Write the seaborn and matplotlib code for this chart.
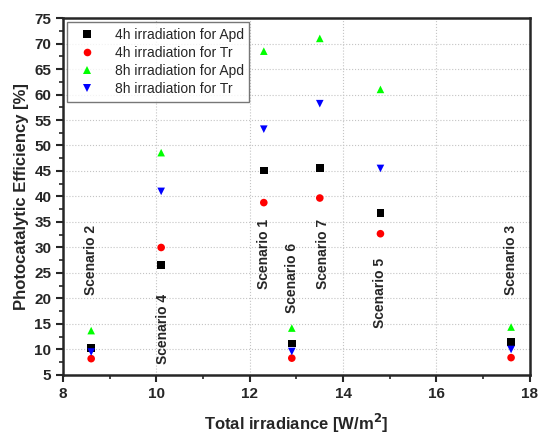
"""Photocatalytic efficiency vs total irradiance."""
import matplotlib
matplotlib.use("Agg")
import matplotlib.pyplot as plt
from matplotlib.ticker import MultipleLocator
import seaborn as sns
import pandas as pd

# Data
irradiance = [8.6, 10.1, 12.3, 12.9, 13.5, 14.8, 17.6]
apd_4h = [10.3, 26.6, 45.1, 11.2, 45.6, 36.8, 11.5]
tr_4h = [8.2, 30.0, 38.8, 8.3, 39.7, 32.7, 8.4]
apd_8h = [13.7, 48.6, 68.5, 14.2, 71.0, 61.0, 14.4]
tr_8h = [9.5, 41.0, 53.2, 9.6, 58.2, 45.5, 10.0]

scenario_labels = ["Scenario 2", "Scenario 4", "Scenario 1", "Scenario 6",
                   "Scenario 7", "Scenario 5", "Scenario 3"]
scenario_x = [8.6, 10.15, 12.3, 12.9, 13.57, 14.8, 17.6]
scenario_y = [20.7, 7.2, 21.9, 17.2, 21.9, 14.2, 20.7]

series_names = ["4h irradiation for Apd", "4h irradiation for Tr",
                "8h irradiation for Apd", "8h irradiation for Tr"]
series_values = [apd_4h, tr_4h, apd_8h, tr_8h]

df = pd.concat([
  pd.DataFrame({"x": irradiance, "y": vals, "series": name})
  for name, vals in zip(series_names, series_values)
])

sns.set_style("ticks")
plt.rcParams["font.family"] = ["Liberation Sans", "DejaVu Sans"]

fig = plt.figure(figsize=(5.4, 4.34), dpi=100)
ax = fig.add_axes([0.117, 0.136, 0.864, 0.8225])

palette = {
  series_names[0]: "black",
  series_names[1]: "red",
  series_names[2]: "#00ff00",
  series_names[3]: "#0000ff",
}
markers = {
  series_names[0]: "s",
  series_names[1]: "o",
  series_names[2]: "^",
  series_names[3]: "v",
}
sns.scatterplot(
  data=df, x="x", y="y",
  hue="series", style="series",
  palette=palette, markers=markers,
  s=30, linewidth=0, ax=ax, zorder=3)

for label, xs, ys in zip(scenario_labels, scenario_x, scenario_y):
  ax.text(xs, ys, label, rotation=90, ha="center", va="bottom",
          fontsize=10, fontweight="bold")

# Formatting
ax.set_xlim(8, 18)
ax.set_ylim(5, 75)
ax.xaxis.set_major_locator(MultipleLocator(2))
ax.xaxis.set_minor_locator(MultipleLocator(1))
ax.yaxis.set_major_locator(MultipleLocator(5))
ax.yaxis.set_minor_locator(MultipleLocator(2.5))
ax.grid(True, which="major", linestyle=":", color="#c4c4c4", linewidth=0.8)
for spine in ax.spines.values():
  spine.set_linewidth(1.8)
  spine.set_visible(True)
ax.tick_params(which="major", direction="out", length=5, width=1.5,
               labelsize=11)
ax.tick_params(which="minor", direction="out", length=3, width=1.2)
for lbl in ax.get_xticklabels() + ax.get_yticklabels():
  lbl.set_fontweight("bold")

ax.set_xlabel("Total irradiance [W/m$^\\mathbf{2}$]", fontsize=12,
              fontweight="bold", labelpad=8)
ax.set_ylabel("Photocatalytic Efficiency [%]", fontsize=12,
              fontweight="bold")

leg = ax.legend(title=None, loc="upper left", fontsize=10, frameon=True,
                fancybox=False, edgecolor="#555555", borderaxespad=0.3,
                handletextpad=1.0, labelspacing=0.3, markerscale=1.0)
leg.get_frame().set_linewidth(1.0)

fig.savefig("out.png", dpi=100, facecolor="white")
